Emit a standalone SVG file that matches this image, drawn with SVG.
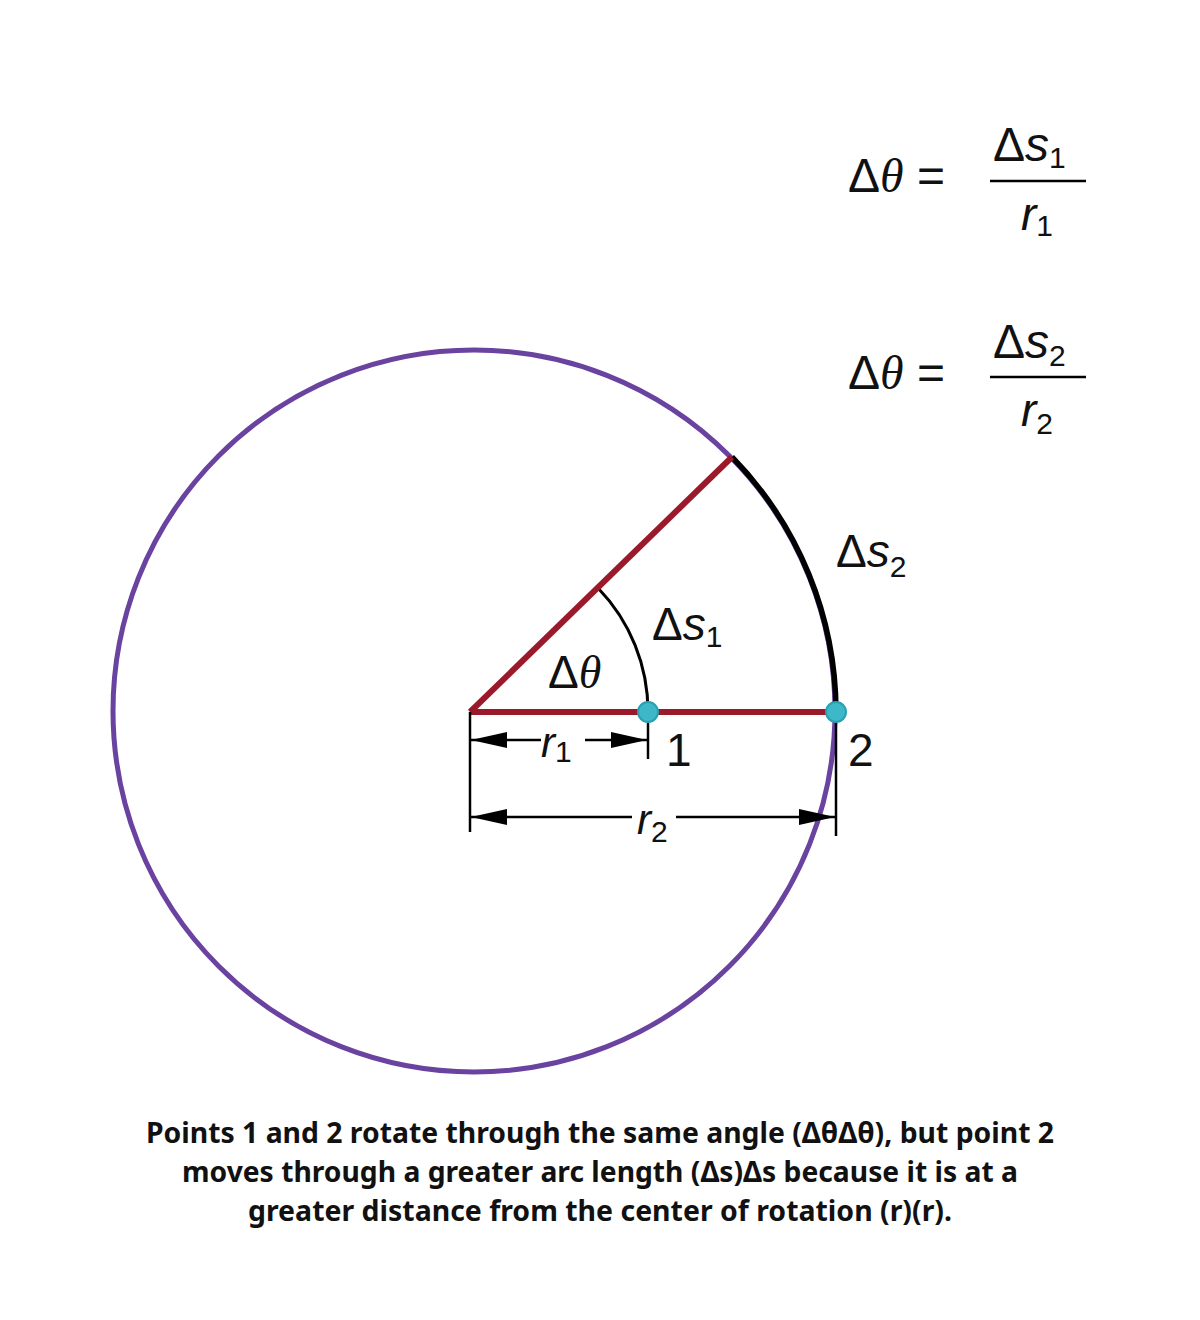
<svg xmlns="http://www.w3.org/2000/svg" width="1200" height="1320" viewBox="0 0 1200 1320">
<style>
.t{font-family:"Liberation Sans",Arimo,Helvetica,Arial,sans-serif;fill:#111;}
.i{font-style:italic;}
.th{font-family:"Liberation Serif","Times New Roman",serif;font-style:italic;}
.cap{font-family:"Noto Sans","Open Sans",sans-serif;font-weight:bold;font-size:28px;fill:#111;}
</style>
<defs>
<marker id="ah2" viewBox="0 0 36 16" refX="36" refY="8" markerWidth="36" markerHeight="16" markerUnits="userSpaceOnUse" orient="auto-start-reverse">
<path d="M0,0 L36,8 L0,16 z" fill="#000"/>
</marker>
</defs>
<rect width="1200" height="1320" fill="#fff"/>
<g id="circle">
<circle cx="474" cy="711" r="361" fill="none" stroke="#6a42a0" stroke-width="5"/>
</g>
<g id="connectors">
<path d="M836,712 A366,366 0 0 0 732,457" fill="none" stroke="#000" stroke-width="5.5"/>
<path d="M648,712 A178,178 0 0 0 598,588" fill="none" stroke="#000" stroke-width="3"/>
<line x1="470" y1="712" x2="836" y2="712" stroke="#9a1a2c" stroke-width="6"/>
<line x1="470" y1="712" x2="732" y2="457" stroke="#9a1a2c" stroke-width="6"/>
<line x1="470" y1="712" x2="470" y2="832" stroke="#000" stroke-width="2.5"/>
<line x1="648" y1="712" x2="648" y2="759" stroke="#000" stroke-width="2.5"/>
<line x1="836" y1="712" x2="836" y2="836" stroke="#000" stroke-width="2.5"/>
<line x1="541" y1="740" x2="471" y2="740" stroke="#000" stroke-width="2.5" marker-end="url(#ah2)"/>
<line x1="585" y1="740" x2="647" y2="740" stroke="#000" stroke-width="2.5" marker-end="url(#ah2)"/>
<line x1="632" y1="817" x2="471" y2="817" stroke="#000" stroke-width="2.5" marker-end="url(#ah2)"/>
<line x1="676" y1="817" x2="835" y2="817" stroke="#000" stroke-width="2.5" marker-end="url(#ah2)"/>
</g>
<g id="point1">
<circle cx="648" cy="712" r="10" fill="#3db8c9" stroke="#2a9fb0" stroke-width="2"/>
<text class="t" x="666" y="766" font-size="46">1</text>
</g>
<g id="point2">
<circle cx="836" cy="712" r="10" fill="#3db8c9" stroke="#2a9fb0" stroke-width="2"/>
<text class="t" x="848" y="766" font-size="46">2</text>
</g>
<g id="labels">
<text class="t" x="548" y="688" font-size="46">Δ<tspan class="th">θ</tspan></text>
<text class="t" x="652" y="640" font-size="46">Δ<tspan class="i">s</tspan><tspan font-size="30" dy="7">1</tspan></text>
<text class="t" x="836" y="567" font-size="46">Δ<tspan class="i">s</tspan><tspan font-size="30" dy="10">2</tspan></text>
<text class="t" x="541" y="757" font-size="42"><tspan class="i">r</tspan><tspan font-size="30" dy="5">1</tspan></text>
<text class="t" x="637" y="834" font-size="42"><tspan class="i">r</tspan><tspan font-size="30" dy="8">2</tspan></text>
</g>
<g id="eq1">
<text class="t" x="848" y="192" font-size="48">Δ<tspan class="th">θ</tspan> =</text>
<line x1="990" y1="181" x2="1086" y2="181" stroke="#000" stroke-width="2.5"/>
<text class="t" x="993" y="161" font-size="48">Δ<tspan class="i">s</tspan><tspan font-size="30" dy="7">1</tspan></text>
<text class="t" x="1021" y="230" font-size="46"><tspan class="i">r</tspan><tspan font-size="30" dy="6">1</tspan></text>
</g>
<g id="eq2">
<text class="t" x="848" y="389" font-size="48">Δ<tspan class="th">θ</tspan> =</text>
<line x1="990" y1="377" x2="1086" y2="377" stroke="#000" stroke-width="2.5"/>
<text class="t" x="993" y="358" font-size="48">Δ<tspan class="i">s</tspan><tspan font-size="30" dy="8">2</tspan></text>
<text class="t" x="1021" y="426" font-size="46"><tspan class="i">r</tspan><tspan font-size="30" dy="8">2</tspan></text>
</g>
<g id="caption">
<text class="cap" x="600" y="1143" text-anchor="middle" textLength="908" lengthAdjust="spacingAndGlyphs">Points 1 and 2 rotate through the same angle (ΔθΔθ), but point 2</text>
<text class="cap" x="600" y="1182" text-anchor="middle" textLength="836" lengthAdjust="spacingAndGlyphs">moves through a greater arc length (Δs)Δs because it is at a</text>
<text class="cap" x="600" y="1221" text-anchor="middle" textLength="704" lengthAdjust="spacingAndGlyphs">greater distance from the center of rotation (r)(r).</text>
</g>
</svg>
